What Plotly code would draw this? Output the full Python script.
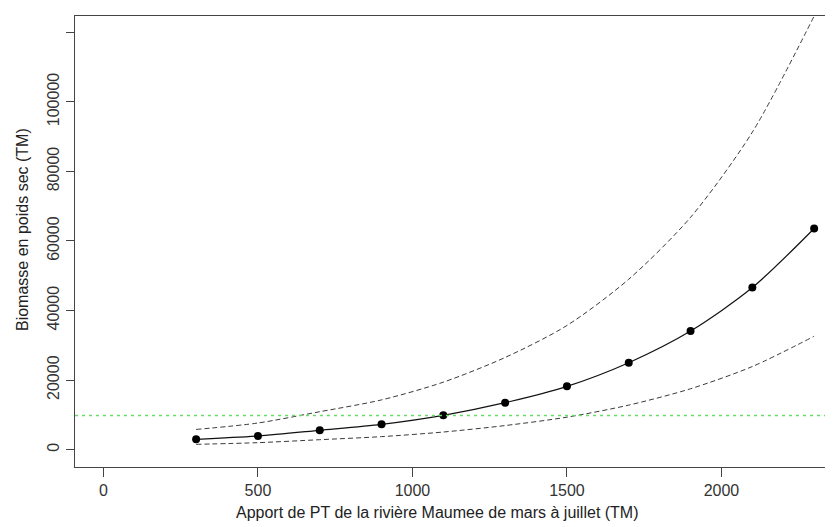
import plotly.graph_objects as go

# Data
apport_pt = [300, 500, 700, 900, 1100, 1300, 1500, 1700, 1900, 2100, 2300]
biomasse = [2960, 3900, 5550, 7280, 9870, 13500, 18200, 25000, 34100, 46600, 63600]
borne_sup = [5800, 7650, 10900, 14300, 19400, 26500, 35700, 49000, 66800, 91300, 124700]
borne_inf = [1520, 2000, 2850, 3730, 5060, 6920, 9330, 12800, 17500, 23900, 32600]
seuil = 9800

x_ticks = [0, 500, 1000, 1500, 2000]
x_tick_labels = ["0", "500", "1000", "1500", "2000"]
y_ticks = [0, 20000, 40000, 60000, 80000, 100000, 120000]
y_tick_labels = ["0", "20000", "40000", "60000", "80000", "100000", ""]

FONT = "Liberation Sans, Arial, sans-serif"

fig = go.Figure()

fig.add_trace(go.Scatter(
    x=apport_pt, y=borne_sup, mode="lines",
    line=dict(color="#3a3a3a", width=1, dash="5px,3px", shape="spline", smoothing=0.8),
    showlegend=False, hoverinfo="skip"))
fig.add_trace(go.Scatter(
    x=apport_pt, y=borne_inf, mode="lines",
    line=dict(color="#3a3a3a", width=1, dash="5px,3px", shape="spline", smoothing=0.8),
    showlegend=False, hoverinfo="skip"))
fig.add_trace(go.Scatter(
    x=apport_pt, y=biomasse, mode="lines+markers",
    line=dict(color="#111111", width=1.2, shape="spline", smoothing=0.8),
    marker=dict(color="#000000", size=8),
    showlegend=False))

fig.add_hline(y=seuil, line=dict(color="#66dd66", width=1.5, dash="3px,4px"))

# The page body adds an 8px offset; the figure is sized to compensate.
fig.update_layout(
    width=825, height=519,
    margin=dict(l=67, r=0, t=8, b=60),
    paper_bgcolor="white", plot_bgcolor="white",
    font=dict(family=FONT, size=16, color="#222222"),
    xaxis=dict(
        range=[-92, 2361], tickvals=x_ticks, ticktext=x_tick_labels,
        showgrid=False, zeroline=False,
        showline=True, linecolor="#444444", linewidth=1.3, mirror=True,
        ticks="outside", ticklen=9, tickcolor="#444444", tickwidth=1,
        tickfont=dict(family=FONT, size=16, color="#333333"),
    ),
    yaxis=dict(
        range=[-5000, 124700], tickvals=y_ticks, ticktext=y_tick_labels,
        showgrid=False, zeroline=False,
        showline=True, linecolor="#444444", linewidth=1.3,
        ticks="outside", ticklen=8, tickcolor="#444444", tickwidth=1,
        tickangle=-90,
        tickfont=dict(family=FONT, size=16, color="#333333"),
    ),
    annotations=[
        dict(text="Apport de PT de la rivière Maumee de mars à juillet (TM)",
             xref="paper", yref="paper", x=(437 - 75) / 758, y=-(512 - 467) / 451,
             xanchor="center", yanchor="middle", showarrow=False,
             font=dict(family=FONT, size=16, color="#222222")),
        dict(text="Biomasse en poids sec (TM)",
             xref="paper", yref="paper", x=-(75 - 22) / 758, y=(467 - 230) / 451,
             xanchor="center", yanchor="middle", showarrow=False, textangle=-90,
             font=dict(family=FONT, size=16, color="#222222")),
    ],
)

fig.write_html("out.html")
